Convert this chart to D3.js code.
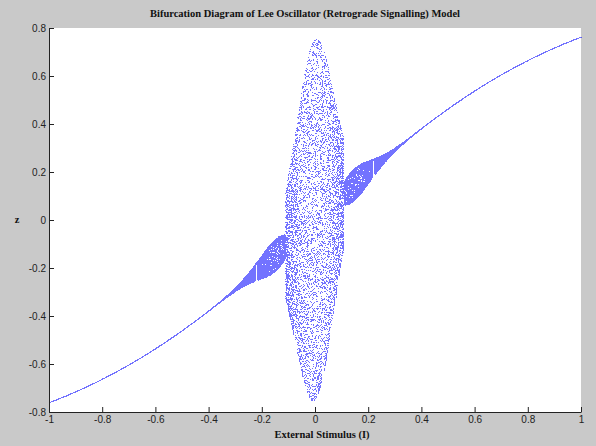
<!DOCTYPE html>
<html><head><meta charset="utf-8">
<script src="https://cdn.jsdelivr.net/npm/d3@7"></script>
<style>
  body{margin:0;background:#c9c9c9;}
  svg{display:block}
  .tick text{font-family:Arial,"Liberation Sans",sans-serif;font-size:10px;fill:#222}
</style>
</head><body>
<svg id="chart" width="596" height="446"></svg>
<script>
// Axis ranges and tick values
const stimulusDomain = [-1, 1];
const zDomain = [-0.8, 0.8];
const xTickValues = [-1, -0.8, -0.6, -0.4, -0.2, 0, 0.2, 0.4, 0.6, 0.8, 1];
const yTickValues = [-0.8, -0.6, -0.4, -0.2, 0, 0.2, 0.4, 0.6, 0.8];
const titleText = "Bifurcation Diagram of Lee Oscillator (Retrograde Signalling) Model";
const xLabelText = "External Stimulus (I)";
const yLabelText = "z";

// Oscillator settings
const decayK = 50;              // exp(-k I^2) damping of the oscillating part
const chaosDecay = 50;          // extra narrowing of the chaotic swing with |I|
const chaosEdge = 0.11;         // |I| below which the oscillator is fully chaotic
const chaosAmplitude = 0.75;    // size of the chaotic swing of (u - v)
const foldSharpness = 40;       // sharpness of the tanh fold in the chaotic neuron
const cycleAmplitudeAt = [0.125, 0.13];  // (|I|, swing) where the limit cycle starts
const cycleAmplitudeSlope = 2.93;        // growth of the swing with |I|
const cycleTurn = [0.23, 3.5];  // rotation per step (in turns) = a + b |I|
const stimulusStep = 0.001;
const chaosSteps = 30;
const cycleSteps = 24;

// Sweep the stimulus and record the settled output z = (u - v) e^{-kI^2} + tanh(I)
function bifurcation() {
  const pts = [];
  const n = Math.round((stimulusDomain[1] - stimulusDomain[0]) / stimulusStep);
  let x = 0.123;  // chaotic neuron state, carried along the sweep
  for (let i = 0; i <= n; i++) {
    const I = stimulusDomain[0] + i * stimulusStep;
    const a = Math.abs(I);
    const damp = Math.exp(-decayK * I * I);
    const w = Math.tanh(I);
    if (a < chaosEdge) {
      const swing = chaosAmplitude * Math.exp(-chaosDecay * I * I);
      for (let t = 0; t < chaosSteps; t++) {
        x = 1 - 2 * x * Math.tanh(foldSharpness * x);
        pts.push([I, swing * x * damp + w]);
      }
    } else {
      const swing = cycleAmplitudeAt[1] + cycleAmplitudeSlope * (a - cycleAmplitudeAt[0]);
      const th = 2 * Math.PI * (cycleTurn[0] + cycleTurn[1] * a);
      const c = Math.cos(th), s = Math.sin(th);
      let u = 1, v = 0;
      for (let t = 0; t < cycleSteps; t++) {
        const un = c * u - s * v, vn = s * u + c * v;
        u = un; v = vn;
        pts.push([I, swing * u * damp + w]);
      }
    }
  }
  return pts;
}

const svg = d3.select("#chart");
const W = 596, H = 446;
const plot = {left: 49, right: 581, top: 28, bottom: 412};

svg.append("rect").attr("width", W).attr("height", H).attr("fill", "#c9c9c9");
svg.append("rect")
  .attr("x", plot.left).attr("y", plot.top)
  .attr("width", plot.right - plot.left).attr("height", plot.bottom - plot.top)
  .attr("fill", "#ffffff");

const x = d3.scaleLinear(stimulusDomain, [plot.left, plot.right]);
const y = d3.scaleLinear(zDomain, [plot.bottom, plot.top]);

// Points, merged onto whole pixels
const seen = new Set();
const marks = [];
for (const [I, z] of bifurcation()) {
  if (z < zDomain[0] || z > zDomain[1]) continue;
  const px = Math.floor(x(I)), py = Math.floor(y(z));
  const key = px * 1000 + py;
  if (seen.has(key)) continue;
  seen.add(key);
  marks.push([I, z]);
}
svg.append("g")
  .selectAll("rect")
  .data(marks)
  .join("rect")
  .attr("x", d => Math.floor(x(d[0])))
  .attr("y", d => Math.floor(y(d[1])))
  .attr("width", 1).attr("height", 1)
  .attr("fill", "#0000ff")
  .attr("fill-opacity", 0.55);

// Axes with inward ticks and plain hyphen minus signs
const fmt = d => d3.format("~g")(d).replace("\u2212", "-");
const xAxis = d3.axisBottom(x).tickValues(xTickValues).tickSizeInner(-5).tickSizeOuter(0)
  .tickPadding(4).tickFormat(fmt);
const yAxis = d3.axisLeft(y).tickValues(yTickValues).tickSizeInner(-5).tickSizeOuter(0)
  .tickPadding(3).tickFormat(fmt);

const gx = svg.append("g").attr("transform", `translate(0,${plot.bottom})`).call(xAxis);
const gy = svg.append("g").attr("transform", `translate(${plot.left},0)`).call(yAxis);
[gx, gy].forEach(g => {
  g.select(".domain").attr("stroke", "#222").attr("stroke-width", 1);
  g.selectAll(".tick line").attr("stroke", "#222");
});

// Title and axis labels
const serif = "'Liberation Serif','Times New Roman',serif";
svg.append("text")
  .attr("x", 305).attr("y", 17)
  .attr("text-anchor", "middle")
  .attr("font-family", serif)
  .attr("font-weight", "bold").attr("font-size", "10.5px").attr("fill", "#111")
  .text(titleText);
svg.append("text")
  .attr("x", 322).attr("y", 438)
  .attr("text-anchor", "middle")
  .attr("font-family", serif)
  .attr("font-weight", "bold").attr("font-size", "10.5px").attr("fill", "#111")
  .text(xLabelText);
svg.append("text")
  .attr("x", 17).attr("y", 223)
  .attr("text-anchor", "middle")
  .attr("font-family", serif)
  .attr("font-weight", "bold").attr("font-size", "10.5px").attr("fill", "#111")
  .text(yLabelText);
</script>
</body></html>
